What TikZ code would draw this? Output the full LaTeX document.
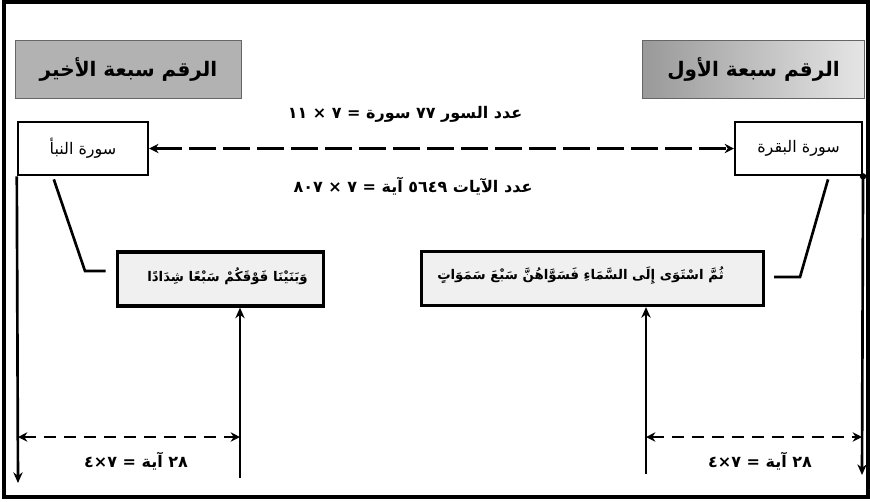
\documentclass[tikz,border=0pt]{standalone}
\usepackage{fontspec}
\usetikzlibrary{arrows.meta,calc}
\TeXXeTstate=1
\newfontfamily\arabicfont[Script=Arabic]{DejaVu Sans}
\newcommand{\rtltext}[1]{\beginR #1\endR}

\begin{document}
\begin{tikzpicture}[x=0.75pt,y=-0.75pt,
  label/.style={inner sep=0pt, font=\arabicfont\bfseries\fontsize{12}{14}\selectfont},
  header/.style={draw=black!60, line width=0.8pt, minimum height=44pt,
    font=\arabicfont\bfseries\fontsize{15}{17}\selectfont},
  namebox/.style={draw, line width=1.8pt, fill=white, minimum height=40pt,
    font=\arabicfont\fontsize{12}{14}\selectfont},
  versebox/.style={draw, line width=2.4pt, fill=gray!12, minimum height=40.5pt},
  versetext/.style={inner sep=0pt, font=\arabicfont\bfseries\fontsize{10}{12}\selectfont},
  conn/.style={line width=2pt},
  tip/.style={-{Stealth[length=8pt,width=7pt]}},
  twotips/.style={{Stealth[length=7pt,width=7pt]}-{Stealth[length=7pt,width=7pt]}},
  longdash/.style={line width=1.8pt, dash pattern=on 20pt off 5.5pt},
  shortdash/.style={line width=1.8pt, dash pattern=on 9pt off 6pt}
]
\useasboundingbox (0,0) rectangle (870,501);

% outer frame
\draw[line width=2.4pt] (4,2) rectangle (868,497);

% headers
\node[header, fill=gray!60, minimum width=170pt] (hdrL) at (128.5,69.5)
  {\rtltext{الرقم سبعة الأخير}};
\node[header, left color=gray!80, right color=gray!20, minimum width=167pt] (hdrR) at (753.5,69.5)
  {\rtltext{الرقم سبعة الأول}};

% sura boxes
\node[namebox, minimum width=97.5pt] (boxL) at (83,148.5) {\rtltext{سورة النبأ}};
\node[namebox, minimum width=95pt] (boxR) at (798.5,148.5) {\rtltext{سورة البقرة}};

% verse boxes and their texts
\node[versebox, minimum width=154pt] (verseL) at (220.5,279) {};
\node[versebox, minimum width=256pt] (verseR) at (592.5,278.5) {};
\node[versetext] (vtextL) at ($(verseL.center)+(7,-3)$)
  {\rtltext{وَبَنَيْنَا فَوْقَكُمْ سَبْعًا شِدَادًا}};
\node[versetext] (vtextR) at ($(verseR.center)+(-12,-3)$)
  {\rtltext{ثُمَّ اسْتَوَى إِلَى السَّمَاءِ فَسَوَّاهُنَّ سَبْعَ سَمَوَاتٍ}};

% count labels
\node[label] (nsura) at (405,114) {\rtltext{عدد السور ٧٧ سورة = ٧ × ١١}};
\node[label] (nayat) at (413,186) {\rtltext{عدد الآيات ٥٦٤٩ آية = ٧ × ٨٠٧}};

% link between the two suras
\draw[longdash, twotips] (boxL.east) -- (boxR.west);

% callouts from each sura to its verse
\coordinate (kneeL) at (85,271);
\coordinate (kneeR) at (800,277);
\draw[conn] ($(boxL.south west)+(37,3)$) -- (kneeL) -- ([xshift=-8pt]verseL.west |- kneeL);
\draw[conn] ($(boxR.south east)+(-35,3)$) -- (kneeR) -- ([xshift=7pt]verseR.east |- kneeR);

% outer verticals
\coordinate (endL) at (18,483);
\coordinate (endR) at (862,475);
\draw[conn, tip] (boxL.south west) -- (endL);
\fill (boxR.south east) circle (2.4pt);
\draw[conn, tip] (boxR.south east) -- (endR);

% inner verticals pointing at the verses
\coordinate (baseL) at (240,478);
\coordinate (baseR) at (646,474);
\draw[conn, tip] (baseL) -- (baseL |- verseL.south);
\draw[conn, tip] (baseR) -- (baseR |- verseR.south);

% spans measured below
\coordinate (spanL1) at (18,437);
\coordinate (spanL2) at (240,437);
\coordinate (spanR1) at (646,437);
\coordinate (spanR2) at (862,437);
\draw[shortdash, twotips] (spanL1) -- (spanL2);
\draw[shortdash, twotips] (spanR1) -- (spanR2);
\node[label] (cntL) at (136,461) {\rtltext{٢٨ آية = ٧×٤}};
\node[label] (cntR) at (760,461) {\rtltext{٢٨ آية = ٧×٤}};
\end{tikzpicture}
\end{document}
